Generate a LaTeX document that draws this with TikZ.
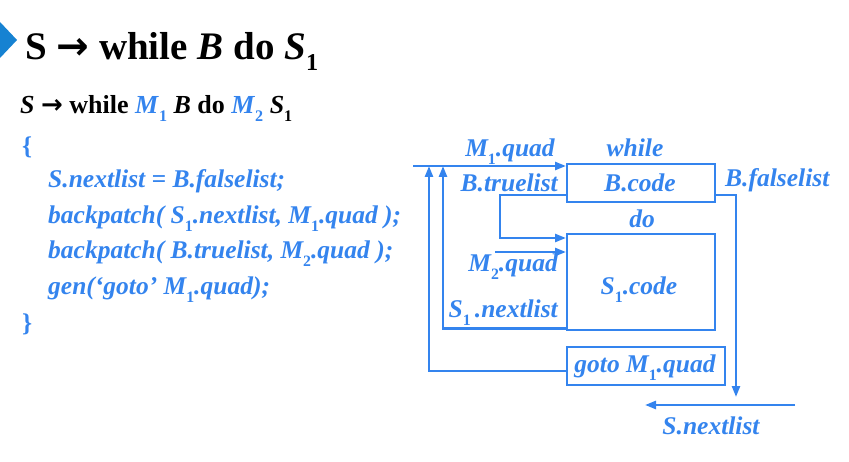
\documentclass[tikz,border=0pt]{standalone}
\usepackage{fontspec}
\setmainfont{Liberation Serif}
\newfontfamily\arrfont{DejaVu Sans}
\usetikzlibrary{arrows.meta}
\definecolor{cblue}{RGB}{52,132,238}
\definecolor{tblue}{RGB}{22,130,210}
\newcommand\sbs[1]{\raisebox{-0.28em}{\scalebox{0.62}{\upshape #1}}}
\newcommand\arr{{\arrfont\bfseries →}}
\begin{document}
\begin{tikzpicture}[x=1pt,y=-1pt,
  lbl/.style={text=cblue,font=\fontsize{25.5}{30}\selectfont\bfseries\itshape,inner sep=0pt,anchor=base},
  code/.style={text=cblue,font=\fontsize{25.5}{30}\selectfont\bfseries\itshape,inner sep=0pt,anchor=base west},
  box/.style={draw=cblue,line width=2.4pt,inner sep=0pt,anchor=north west},
  conn/.style={draw=cblue,line width=2.4pt},
  arr/.style={conn,-{Triangle[length=11pt,width=8pt]}}]
\useasboundingbox (0,0) rectangle (849,462);
% marker
\fill[tblue] (0,22) -- (17,40) -- (0,58) -- cycle;
% title
\node[inner sep=0pt,anchor=base west,font=\fontsize{39}{46}\selectfont\bfseries] (title) at (25,60)
  {S \arr{} while \textit{B} do \textit{S}\sbs{1}};
\node[inner sep=0pt,anchor=base west,font=\fontsize{26}{30}\selectfont\bfseries] (prod) at (20,114)
  {\textit{S} \arr{} while \textcolor{cblue}{\textit{M}\sbs{1}} \textit{B} do \textcolor{cblue}{\textit{M}\sbs{2}} \textit{S}\sbs{1}};
% code
\node[code] (lb) at (22,155) {\upshape\{};
\node[code] (c1) at (48,188) {S.nextlist = B.falselist;};
\node[code] (c2) at (48,224) {backpatch( S\sbs{1}.nextlist, M\sbs{1}.quad );};
\node[code] (c3) at (48,259) {backpatch( B.truelist, M\sbs{2}.quad );};
\node[code] (c4) at (48,295) {gen(‘goto’ M\sbs{1}.quad);};
\node[code] (rb) at (22,332) {\upshape\}};
% boxes
\node[box,minimum width=148pt,minimum height=38pt] (bcode) at (566,163) {};
\node[box,minimum width=148pt,minimum height=96pt] (scode) at (566,233) {};
\node[box,minimum width=158pt,minimum height=38pt] (gotob) at (566,346) {};
% labels
\node[lbl] (lm1) at (510,157) {M\sbs{1}.quad};
\node[lbl] (lwhile) at (635,157) {while};
\node[lbl,anchor=base east] (ltrue) at (558,192) {B.truelist};
\node[lbl] (lbc) at (640,192) {B.code};
\node[lbl,anchor=base west] (lfalse) at (725,187) {B.falselist};
\node[lbl] (ldo) at (642,228) {do};
\node[lbl,anchor=base east] (lm2) at (558,272) {M\sbs{2}.quad};
\node[lbl] (lsc) at (639,295) {S\sbs{1}.code};
\node[lbl,anchor=base east] (lsn) at (558,318) {S\sbs{1}\,.nextlist};
\node[lbl] (lgoto) at (645,373) {goto M\sbs{1}.quad};
\node[lbl] (lnext) at (711,434) {S.nextlist};
% connectors
\coordinate (start) at (413,166);
\coordinate (j1) at (429,166);
\coordinate (j2) at (443,166);
\coordinate (m2s) at (495,252);
\coordinate (fend) at (736,397);
\coordinate (ns) at (795,405);
\coordinate (ne) at (645,405);
\draw[arr] (start) -- (start -| bcode.west);
\draw[arr] ([yshift=-5pt]gotob.west) -| (j1);
\draw[arr] ([yshift=3pt]scode.south west) -| (j2);
\draw[arr] ([yshift=-12pt]bcode.west) -- ++(-66,0) |- ([yshift=-5pt]scode.north west);
\draw[arr] (m2s) -- (m2s -| scode.west);
\draw[arr] ([yshift=-12pt]bcode.east) -| (fend);
\draw[arr] (ns) -- (ne);
\end{tikzpicture}
\end{document}
